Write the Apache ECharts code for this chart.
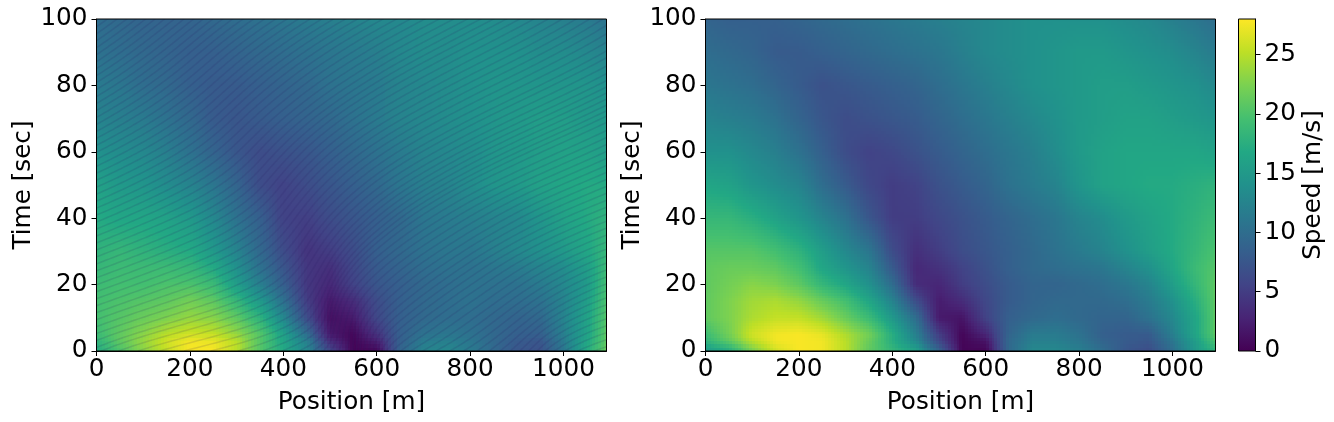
<!DOCTYPE html>
<html><head><meta charset="utf-8">
<style>html,body{margin:0;padding:0;background:#fff}#c{width:1334px;height:422px}</style>
<script src="https://cdn.jsdelivr.net/npm/echarts@6/dist/echarts.min.js"></script>
</head><body><div id="c"></div>
<script>
const positions=[0,50,100,150,200,250,300,350,400,450,500,550,600,650,700,750,800,850,900,950,1000,1050,1092];
const times=[0,3,5,10,15,20,25,30,40,50,60,70,80,90,100];
const xTicks=[0,200,400,600,800,1000];
const yTicks=[0,20,40,60,80,100];
const barTicks=[0,5,10,15,20,25];
const speedLeft=[
[17,20,23,25.5,27.8,27.8,25,20.5,17,13,6,0.3,0.5,9,12.5,13,11.5,9.5,7.5,7,11,17,21.5],
[18,21,23.5,26,27.5,27,25,20.5,16.5,12,3.5,0.3,2.5,8.5,11.5,12,11,9.5,8,7.5,11.5,16.5,21],
[19,21,23,25,26,25.5,23.5,20.5,16,10,2,0.5,4,8.5,10.5,11,10.5,9.5,8.5,8.5,12,16,21],
[19.5,20.5,21.5,22.5,23.5,23,21,18,13,6.5,1.2,2,6,8.5,9.5,10,10,9.5,9,9.5,12.5,16,20.5],
[19.5,20,20.5,21,22,21,18.5,15,10.5,5,2,3.5,6.5,8.5,9.5,10,10.5,10,10,10.5,12.5,15.5,20],
[19,19.5,19.5,20,20,19,15.5,12,8.5,4.5,3.2,5.5,7.5,8.5,9.5,10,10.5,10.5,10.5,11.5,13,15,19.5],
[18.5,19,19,19,18.5,17,14,10.5,7.5,4.5,3.8,6,8,9,10,10.5,10.5,11,11.5,12.5,13.5,15.5,19],
[18,18.5,18,17.5,17,15,12.5,9.5,6.5,4.2,5,6.5,8.5,9.5,10.5,11,11,12,13,14,15,16.5,18.5],
[17,16.5,16.5,16,15,13,10.5,8.5,5.5,5.2,6.5,7.5,8.5,9.5,11,11.5,12,12.5,13,14.5,16,17,18],
[16,15,14.5,13.5,12.5,11,9,6.5,5.5,6.5,7.5,8.5,9.5,11,12,12.5,13.5,14.5,15,16,16.5,17,17],
[14,13.5,13,12,10.5,9,7.5,6.5,7,7.5,8.5,9.5,10.5,11.5,12.5,13,13.5,14.5,15,15.5,16,16,15.5],
[12.5,12,11.5,10.5,9.5,8,7.5,8,8.5,9,9.5,10.5,11.5,12.5,13,13.5,14,14.5,15,15.5,15.5,15,15],
[11.5,11,10,9.5,8.5,8,8,8.5,9,9.5,10.5,11,11.5,12.5,13,13.5,14,14.5,14.5,14.5,14.5,14.5,14],
[10.5,10,9.5,9,8.5,8.5,9,9.5,10,10.5,11,11.5,12,13,13.5,13.5,14,14,14,13.5,13.5,13,12.5],
[10,9.5,9,9,9,9.5,10,10.5,11,11.5,12,12.5,13,13,13.5,13.5,13.5,13.5,13,12.5,12,11.5,10.5]
];
const speedRight=[
[15,17,22,26,27.8,27.5,25,21,18.5,16,9,0.3,0.3,9.5,13,13,12,10,7.5,6.5,10,15,18],
[18,21,25,27.5,27.8,27.5,25,21.5,17.5,13,6,0.3,1.5,9.5,12,12,11,9,8,7.5,11,15.5,20],
[19,22,26,27.5,27.8,27,24.5,22,17.5,12,5,0.4,3,9,11.5,11.5,10.5,8.5,8,8,12,16.5,21],
[21,22.5,24.5,25.5,25.5,24,21.5,19,15,10,2,1.5,5.5,8.5,9.5,10,9.5,9,9,10.5,13,16.5,21],
[21,22.5,24,24.5,23.5,21.5,19.5,16.5,12.5,6.5,2.2,3.5,6,8,9,9.5,9.5,9.5,10,11.5,14,17.5,21],
[21,22,23,22.5,21,18.5,16.5,14,10,3.5,3,5,6.5,8,9,9,9.5,10,11,12.5,15.5,18.5,21],
[21,21.5,21.5,21,19.5,16.5,14.5,12.5,8,3.2,4,5.5,7,8.5,9.5,10,10.5,11,12.5,14,16.5,19,20.5],
[20.5,20.5,20.5,19.5,18,15.5,13,11,6.5,3.8,5,6.5,7.5,8.5,9.5,10.5,11.5,12.5,14,15.5,17,18.5,20],
[18.5,18.5,17.5,16,14.5,12.5,10.5,7.5,5,5,6,7,8,9,10,11,12.5,13.5,15,16,17,18,19],
[16.5,16,14.5,13.5,12.5,10,8,6,5,5.5,7,8,9,10.5,11.5,12.5,14.5,16,16.5,17,17,17.5,18],
[14,14,13,12,10.5,8.5,6.5,5.5,6,7,8,9,10,11,12,13.5,15,16,16.5,16.5,16.5,16.5,16],
[12.5,12,11.5,10.5,9,7.5,6.5,7,7.5,8,9,10,11,12,13,14,15,15.5,16,16,15.5,15,14.5],
[11,10.5,10,9,8,7,7.5,8,8.5,9,10,11,12,13,14,14.5,15,15.5,15.5,15,14.5,14,13],
[10,9.5,9,8,8,8.5,9,9.5,10,10.5,11,12,13,13.5,14,14.5,15,15,14.5,14,13.5,12.5,11.5],
[9,8.5,8.5,8.5,9,9.5,10,10.5,11,11.5,12,12.5,13,13.5,14,14,14,14,13.5,13,12,11,10]
];
const speedMin=0, speedMax=28, xMax=1092, tMax=100;
const stripeHeadway=2.1; // seconds between the faint vehicle streaks of the left panel
const jamHead=470; // metres: the t=0 position that splits the streak families
const viridis=['#440154','#482475','#414487','#355f8d','#2a788e','#21918c','#22a884','#44bf70','#7ad151','#bddf26','#fde725'];
const vRGB=viridis.map(h=>[1,3,5].map(i=>parseInt(h.substr(i,2),16)));
function colorOf(v){
  let f=Math.max(0,Math.min(1,(v-speedMin)/(speedMax-speedMin)))*(vRGB.length-1);
  let i=Math.min(vRGB.length-2,Math.floor(f)),k=f-i;
  let a=vRGB[i],b=vRGB[i+1];
  return 'rgb('+a.map((c,n)=>Math.round(c+(b[n]-c)*k)).join(',')+')';
}
function cells(table){
  const out=[];
  for(let r=0;r<times.length-1;r++)for(let c=0;c<positions.length-1;c++)
    out.push([positions[c],positions[c+1],times[r],times[r+1],table[r][c],table[r][c+1],table[r+1][c],table[r+1][c+1]]);
  return out;
}
// Gouraud shading of each mesh cell (as pcolormesh shading='gouraud'): the corners are the read values.
function renderCell(params,api){
  const p0=api.coord([api.value(0),api.value(2)]),p1=api.coord([api.value(1),api.value(3)]);
  const v00=api.value(4),v10=api.value(5),v01=api.value(6),v11=api.value(7);
  const x0=Math.min(p0[0],p1[0]),x1=Math.max(p0[0],p1[0]),y0=Math.min(p0[1],p1[1]),y1=Math.max(p0[1],p1[1]);
  const step=3,nx=Math.max(1,Math.round((x1-x0)/step)),ny=Math.max(1,Math.round((y1-y0)/step));
  const children=[];
  for(let j=0;j<ny;j++)for(let i=0;i<nx;i++){
    const u=(i+.5)/nx,w=(j+.5)/ny;
    const v=(1-w)*((1-u)*v01+u*v11)+w*((1-u)*v00+u*v10);
    const a=Math.round(x0+(x1-x0)*i/nx),b=Math.round(x0+(x1-x0)*(i+1)/nx),
          c=Math.round(y0+(y1-y0)*j/ny),d=Math.round(y0+(y1-y0)*(j+1)/ny);
    children.push({type:'rect',shape:{x:a,y:c,width:b-a,height:d-c},style:{fill:colorOf(v)}});
  }
  return {type:'group',children};
}
function speedAt(table,x,t){
  let c=0;while(c<positions.length-2&&positions[c+1]<x)c++;
  let r=0;while(r<times.length-2&&times[r+1]<t)r++;
  const u=Math.max(0,Math.min(1,(x-positions[c])/(positions[c+1]-positions[c]))),w=Math.max(0,Math.min(1,(t-times[r])/(times[r+1]-times[r])));
  return (1-w)*((1-u)*table[r][c]+u*table[r][c+1])+w*((1-u)*table[r+1][c]+u*table[r+1][c+1]);
}
function trace(table,x,t,dir){
  const pts=[[x,t]];
  while(t>=0&&t<=tMax&&x>=0&&x<=xMax){const v=speedAt(table,x,t);x+=dir*v*0.5;t+=dir*0.5;pts.push([x,t]);}
  return pts;
}
// Streak texture of the left panel: each streak follows the speed table read above.
function streakSeeds(table){
  const seeds=[];
  for(let t=stripeHeadway/2;t<tMax;t+=stripeHeadway)seeds.push([0,t,1]);
  for(let x=10;x<jamHead;x+=Math.max(7,speedAt(table,x,0)*stripeHeadway))seeds.push([x,0,1]);
  const last=trace(table,jamHead,0,1),tEnd=last[last.length-1][1];
  for(let t=tEnd-stripeHeadway;t>0;t-=stripeHeadway)seeds.push([xMax,t,-1]);
  return seeds;
}
function renderStreak(params,api){
  const pts=trace(speedLeft,api.value(0),api.value(1),api.value(2)).map(p=>api.coord(p));
  return {type:'polyline',shape:{points:pts},style:{fill:null,stroke:'rgba(40,30,100,0.14)',lineWidth:1.5}};
}
const font='"DejaVu Sans"',fs=24.7;
const plain=v=>String(v);
function xA(i){return {type:'value',gridIndex:i,min:0,max:xMax,name:'Position [m]',nameLocation:'middle',nameGap:39,
  nameTextStyle:{fontFamily:font,fontSize:fs,color:'#000'},
  axisLine:{show:true,onZero:false,lineStyle:{color:'#000',width:1}},
  axisTick:{show:true,length:5,lineStyle:{color:'#000',width:1},customValues:xTicks},
  axisLabel:{show:true,fontFamily:font,fontSize:fs,color:'#000',margin:6,customValues:xTicks,formatter:plain},splitLine:{show:false}};}
function yA(i){return {type:'value',gridIndex:i,min:0,max:tMax,name:'Time [sec]',nameLocation:'middle',nameGap:60,
  nameTextStyle:{fontFamily:font,fontSize:fs,color:'#000'},
  axisLine:{show:true,onZero:false,lineStyle:{color:'#000',width:1}},
  axisTick:{show:true,length:5,lineStyle:{color:'#000',width:1},customValues:yTicks},
  axisLabel:{show:true,fontFamily:font,fontSize:fs,color:'#000',margin:9,padding:[6,0,0,0],customValues:yTicks,formatter:plain},splitLine:{show:false}};}
const gridBox={top:19,height:332,show:true,borderColor:'#000',borderWidth:1,backgroundColor:'transparent',z:5};
const chart=echarts.init(document.getElementById('c'),null,{renderer:'canvas'});
chart.setOption({
 animation:false,backgroundColor:'#fff',
 grid:[Object.assign({left:96.5,width:510},gridBox),Object.assign({left:705.5,width:510},gridBox),Object.assign({left:1238.5,width:17},gridBox)],
 xAxis:[xA(0),xA(1),{type:'value',gridIndex:2,min:0,max:1,show:false}],
 yAxis:[yA(0),yA(1),{type:'value',gridIndex:2,min:speedMin,max:speedMax,position:'right',name:'Speed [m/s]',nameLocation:'middle',nameGap:46,nameRotate:90,
   nameTextStyle:{fontFamily:font,fontSize:fs,color:'#000'},
   axisLine:{show:true,onZero:false,lineStyle:{color:'#000',width:1}},
   axisTick:{show:true,length:5,lineStyle:{color:'#000',width:1},customValues:barTicks},
   axisLabel:{show:true,fontFamily:font,fontSize:fs,color:'#000',margin:9,padding:[6,0,0,0],customValues:barTicks,formatter:plain},splitLine:{show:false}}],
 series:[
  {type:'custom',name:'Left',xAxisIndex:0,yAxisIndex:0,data:cells(speedLeft),renderItem:renderCell,clip:true,silent:true,encode:{x:[0,1],y:[2,3]},progressive:0,z:2},
  {type:'custom',name:'Left streaks',xAxisIndex:0,yAxisIndex:0,data:streakSeeds(speedLeft),renderItem:renderStreak,clip:true,silent:true,encode:{x:0,y:1},progressive:0,z:3},
  {type:'custom',name:'Right',xAxisIndex:1,yAxisIndex:1,data:cells(speedRight),renderItem:renderCell,clip:true,silent:true,encode:{x:[0,1],y:[2,3]},progressive:0,z:2},
  {type:'custom',name:'Colorbar',xAxisIndex:2,yAxisIndex:2,data:[[0,1,speedMin,speedMax]],silent:true,encode:{x:[0,1],y:[2,3]},
   renderItem(params,api){
    const a=api.coord([api.value(0),api.value(2)]),b=api.coord([api.value(1),api.value(3)]);
    return {type:'rect',shape:{x:a[0],y:b[1],width:b[0]-a[0],height:a[1]-b[1]},
      style:{fill:new echarts.graphic.LinearGradient(0,1,0,0,viridis.map((c,i)=>({offset:i/(viridis.length-1),color:c})))}};
   }}
 ]
});
</script></body></html>
